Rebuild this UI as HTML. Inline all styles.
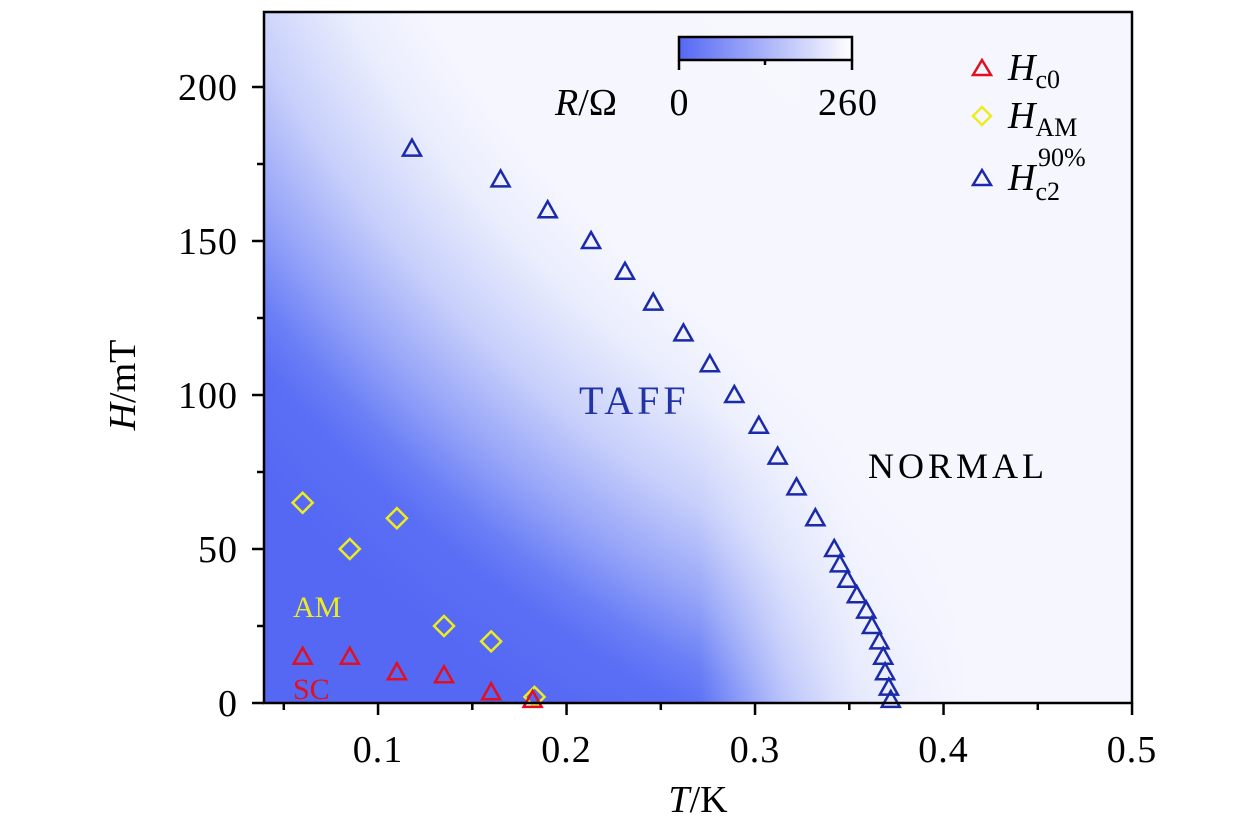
<!DOCTYPE html>
<html><head><meta charset="utf-8"><style>
body{margin:0;background:#fff;width:1260px;height:835px;overflow:hidden}
svg text{font-family:"Liberation Serif",serif}
</style></head><body>
<svg id="chart" width="1260" height="835">
<defs>
<radialGradient id="bg" gradientUnits="userSpaceOnUse" cx="1352" cy="-556" r="1500" fx="1352" fy="-556">
<stop offset="0" stop-color="#f8f9fe"/>
<stop offset="0.72" stop-color="#f6f7fe"/>
<stop offset="0.77" stop-color="#eaedfd"/>
<stop offset="0.83" stop-color="#c8d0fb"/>
<stop offset="0.885" stop-color="#95a4f8"/>
<stop offset="0.925" stop-color="#6a7ff6"/>
<stop offset="0.95" stop-color="#5b6ff5"/>
<stop offset="1" stop-color="#5568f4"/>
</radialGradient>
<linearGradient id="fade" gradientUnits="userSpaceOnUse" x1="700" y1="0" x2="980" y2="0">
<stop offset="0" stop-color="#f6f7fe" stop-opacity="0"/>
<stop offset="0.3" stop-color="#f6f7fe" stop-opacity="0.55"/>
<stop offset="0.55" stop-color="#f6f7fe" stop-opacity="0.85"/>
<stop offset="1" stop-color="#f6f7fe" stop-opacity="1"/>
</linearGradient>
<linearGradient id="cb" x1="0" x2="1" y1="0" y2="0">
<stop offset="0" stop-color="#5568f4"/><stop offset="1" stop-color="#ffffff"/>
</linearGradient>
</defs>
<rect x="264" y="12" width="868" height="691" fill="url(#bg)"/>
<rect x="264" y="12" width="868" height="691" fill="url(#fade)"/>
<g id="axes"></g>
<g id="marks"></g>
<rect x="264" y="12" width="868" height="691" fill="none" stroke="#000" stroke-width="2.5"/>
<text x="579" y="414" font-size="40" letter-spacing="4" fill="#2233aa">TAFF</text>
<text x="868" y="478" font-size="36" letter-spacing="4" fill="#000">NORMAL</text>
<text x="293" y="617" font-size="30" fill="#ecec20">AM</text>
<text x="293" y="699" font-size="30" fill="#e01020">SC</text>
<g>
<rect x="679" y="37" width="173" height="23" fill="url(#cb)" stroke="#000" stroke-width="2.5"/>
<line x1="679" y1="60" x2="679" y2="70" stroke="#000" stroke-width="2.5"/>
<line x1="765" y1="60" x2="765" y2="65" stroke="#000" stroke-width="2.5"/>
<line x1="852" y1="60" x2="852" y2="70" stroke="#000" stroke-width="2.5"/>
<text x="555" y="115" font-size="38" font-style="italic">R<tspan font-style="normal">/Ω</tspan></text>
<text x="679" y="115" font-size="38" text-anchor="middle">0</text>
<text x="848" y="115" font-size="38" letter-spacing="1" text-anchor="middle">260</text>
</g>
<g>
<polygon points="982,60 991,75 973,75" fill="none" stroke="#e01020" stroke-width="2.5"/>
<text x="1008" y="80" font-size="38" font-style="italic">H<tspan font-style="normal" font-size="26" dy="8">c0</tspan></text>
<polygon points="982,107 991,116 982,125 973,116" fill="none" stroke="#ecec20" stroke-width="2.5"/>
<text x="1008" y="128" font-size="38" font-style="italic">H<tspan font-style="normal" font-size="26" dy="8">AM</tspan></text>
<polygon points="982,170 991,185 973,185" fill="none" stroke="#1a2aaa" stroke-width="2.5"/>
<text x="1008" y="190" font-size="38" font-style="italic">H<tspan font-style="normal" font-size="26" dy="10">c2</tspan><tspan font-style="normal" font-size="26" x="1038" dy="-34">90%</tspan></text>
</g>
<text x="0" y="0" font-size="38" font-style="italic" transform="translate(135,385) rotate(-90)" text-anchor="middle">H<tspan font-style="normal">/mT</tspan></text>
<text x="698" y="812" font-size="38" font-style="italic" text-anchor="middle">T<tspan font-style="normal">/K</tspan></text>
</svg>
<script>
const xTicks=[0.1,0.2,0.3,0.4,0.5];
const xMinor=[0.05,0.15,0.25,0.35,0.45];
const yTicks=[0,50,100,150,200];
const yMinor=[25,75,125,175];
const hc0T=[0.06,0.085,0.11,0.135,0.16,0.182];
const hc0H=[15,15,10,9,3.5,1];
const hamT=[0.06,0.085,0.11,0.135,0.16,0.183];
const hamH=[65,50,60,25,20,2];
const hc2T=[0.118,0.165,0.19,0.213,0.231,0.246,0.262,0.276,0.289,0.302,0.312,0.322,0.332,0.342,0.345,0.349,0.354,0.359,0.362,0.366,0.368,0.369,0.371,0.372];
const hc2H=[180,170,160,150,140,130,120,110,100,90,80,70,60,50,45,40,35,30,25,20,15,10,5,1];
const NS='http://www.w3.org/2000/svg';
function X(t){return 264+(t-0.0395)*1885;}
function Y(h){return 703-h*3.08;}
const ax=document.getElementById('axes'),mk=document.getElementById('marks');
function mkEl(tag,attrs,parent){const e=document.createElementNS(NS,tag);for(const k in attrs)e.setAttribute(k,attrs[k]);parent.appendChild(e);return e;}
xTicks.forEach(t=>{
 const l=mkEl('line',{x1:X(t),x2:X(t),y1:703,y2:715,stroke:'#000','stroke-width':2.5},ax);
 
 
 const tx=mkEl('text',{x:X(t),y:762,'font-size':38,'letter-spacing':1,'text-anchor':'middle'},ax);tx.textContent=String(t);
 
 
});
xMinor.forEach(t=>{
 const l=mkEl('line',{x1:X(t),x2:X(t),y1:703,y2:710,stroke:'#000','stroke-width':2.5},ax);
 
 
});
yTicks.forEach(h=>{
 const l=mkEl('line',{x1:252,x2:264,y1:Y(h),y2:Y(h),stroke:'#000','stroke-width':2.5},ax);
 
 
 const tx=mkEl('text',{x:238,y:Y(h)+13,'font-size':38,'letter-spacing':1,'text-anchor':'end'},ax);tx.textContent=String(h);
 
 
});
yMinor.forEach(h=>{
 const l=mkEl('line',{x1:257,x2:264,y1:Y(h),y2:Y(h),stroke:'#000','stroke-width':2.5},ax);
 
 
});
function tri(x,y,c,name){
 const p=mkEl('polygon',{points:`${x},${y-9} ${x+9},${y+7} ${x-9},${y+7}`,fill:'none',stroke:c,'stroke-width':2.5},mk);
 
 
}
function dia(x,y,c,name){
 const p=mkEl('polygon',{points:`${x},${y-10} ${x+10},${y} ${x},${y+10} ${x-10},${y}`,fill:'none',stroke:c,'stroke-width':2.5},mk);
 
 
}
hamT.forEach((t,i)=>dia(X(t),Y(hamH[i]),'#ecec20','ham-point'));
hc0T.forEach((t,i)=>tri(X(t),Y(hc0H[i]),'#e01020','hc0-point'));
hc2T.forEach((t,i)=>tri(X(t),Y(hc2H[i]),'#1a2aaa','hc2-point'));
</script>
</body></html>
